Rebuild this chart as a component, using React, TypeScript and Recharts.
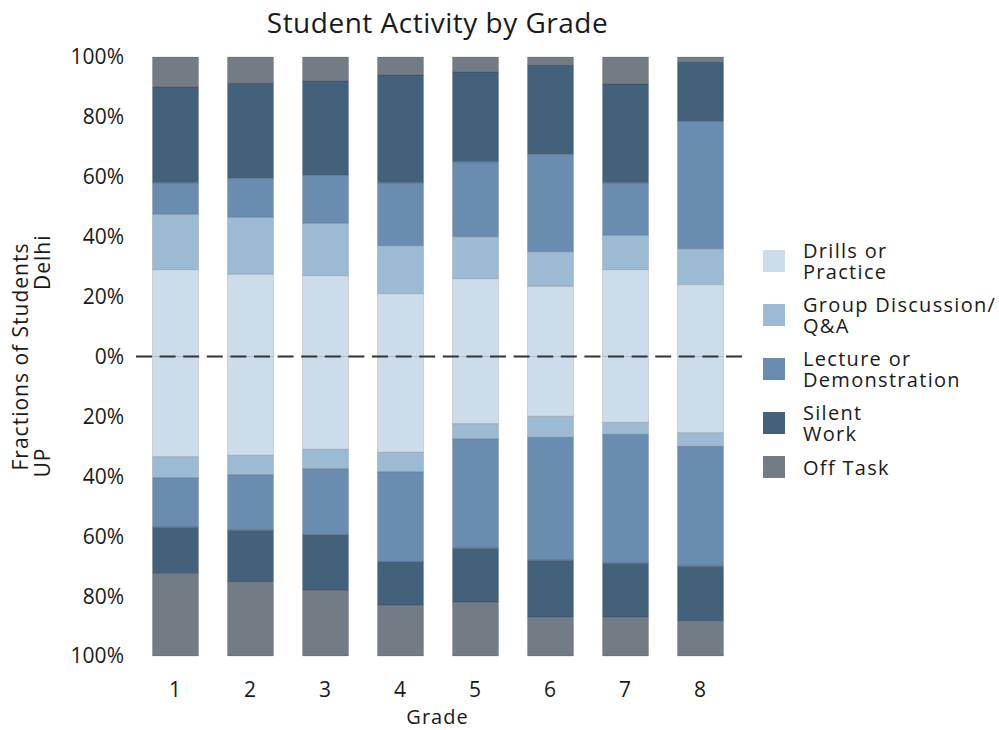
import React from 'react';
import { BarChart, Bar, XAxis, YAxis, ReferenceLine } from 'recharts';

const grades = ['1', '2', '3', '4', '5', '6', '7', '8'];

const activities = [
  'Drills or\nPractice',
  'Group Discussion/\nQ&A',
  'Lecture or\nDemonstration',
  'Silent\nWork',
  'Off Task',
];

// Delhi (upper half), percent of students
const delhiDrills = [29, 27.5, 27, 21, 26, 23.5, 29, 24];
const delhiGroup = [18.5, 19, 17.5, 16, 14, 11.5, 11.5, 12];
const delhiLecture = [10.5, 13, 16, 21, 25, 32.5, 17.5, 42.5];
const delhiSilent = [32, 32, 31.5, 36, 30, 30, 33, 20];
const delhiOff = [10, 8.5, 8, 6, 5, 2.5, 9, 1.5];

// UP (lower half)
const upDrills = [33.5, 33, 31, 32, 22.5, 20, 22, 25.5];
const upGroup = [7, 6.5, 6.5, 6.5, 5, 7, 4, 4.5];
const upLecture = [16.5, 18.5, 22, 30, 36.5, 41, 43, 40];
const upSilent = [15.5, 17.5, 18.5, 14.5, 18, 19, 18, 18.5];
const upOff = [27.5, 24.5, 22, 17, 18, 13, 13, 11.5];

const yTicks = [-100, -80, -60, -40, -20, 0, 20, 40, 60, 80, 100];

const COLORS = ['#cddcea', '#9dbad5', '#6a8cb0', '#44617c', '#737b85'];
const FONT = '"Open Sans", sans-serif';
const INK = '#1a1a1a';

const delhi = [delhiDrills, delhiGroup, delhiLecture, delhiSilent, delhiOff];
const up = [upDrills, upGroup, upLecture, upSilent, upOff];

const data = grades.map((grade, i) => {
  const row: Record<string, string | number> = { grade };
  delhi.forEach((s, k) => {
    row[`d${k}`] = s[i];
  });
  up.forEach((s, k) => {
    row[`u${k}`] = -s[i];
  });
  return row;
});

const YTitle = ({ viewBox }: any) => {
  const cy = viewBox.y + viewBox.height / 2;
  return (
    <g fontSize={21} fill={INK} fontFamily={FONT} letterSpacing={1}>
      <text transform={`translate(28, ${cy}) rotate(-90)`} textAnchor="middle">
        Fractions of Students
      </text>
      <text transform={`translate(50, ${cy + 121}) rotate(-90)`} textAnchor="start">
        UP
      </text>
      <text transform={`translate(50, ${cy - 122}) rotate(-90)`} textAnchor="end">
        Delhi
      </text>
    </g>
  );
};

export default function App() {
  return (
    <div style={{ position: 'absolute', left: 0, top: 0, width: 999, height: 730, fontFamily: FONT, color: INK }}>
      <div
        style={{
          position: 'absolute',
          left: 130,
          width: 615,
          top: 5,
          fontSize: 28,
          lineHeight: '34px',
          letterSpacing: 0.5,
          textAlign: 'center',
        }}
      >
        Student Activity by Grade
      </div>

      <BarChart
        width={999}
        height={730}
        data={data}
        stackOffset="sign"
        barSize={46}
        margin={{ top: 57, right: 254, bottom: 0, left: 0 }}
      >
        <XAxis
          dataKey="grade"
          height={74}
          padding={{ left: 7.5, right: 7.5 }}
          axisLine={false}
          tickLine={false}
          tickSize={0}
          tickMargin={26}
          tick={{ fontSize: 21, fill: INK, fontFamily: FONT }}
          label={{
            value: 'Grade',
            position: 'insideBottom',
            offset: 6,
            fontSize: 20,
            fill: INK,
            fontFamily: FONT,
            letterSpacing: 1,
          }}
        />
        <YAxis
          width={130}
          type="number"
          domain={[-100, 100]}
          ticks={yTicks}
          interval={0}
          axisLine={false}
          tickLine={false}
          tickSize={0}
          tickMargin={6}
          tickFormatter={(v: number) => `${Math.abs(v)}%`}
          tick={{ fontSize: 21, fill: INK, fontFamily: FONT }}
          label={(props: any) => <YTitle {...props} />}
        />
        <ReferenceLine
          y={0}
          stroke="#333"
          strokeWidth={2}
          strokeDasharray="16 7.6"
          strokeDashoffset={-6}
        />
        {COLORS.map((c, k) => [
          <Bar
            key={`d${k}`}
            dataKey={`d${k}`}
            stackId="a"
            fill={c}
            stroke="#000"
            strokeOpacity={0.12}
            isAnimationActive={false}
          />,
          <Bar
            key={`u${k}`}
            dataKey={`u${k}`}
            stackId="a"
            fill={c}
            stroke="#000"
            strokeOpacity={0.12}
            isAnimationActive={false}
          />,
        ])}
      </BarChart>

      <div
        style={{
          position: 'absolute',
          left: 763,
          top: 240,
          fontSize: 20,
          lineHeight: '21px',
          letterSpacing: 1.3,
        }}
      >
        {activities.map((a, k) => (
          <div key={a} style={{ display: 'flex', alignItems: 'center', marginBottom: 12 }}>
            <div style={{ width: 22, height: 22, background: COLORS[k], marginRight: 18, flex: 'none' }} />
            <div style={{ whiteSpace: 'pre-line' }}>{a}</div>
          </div>
        ))}
      </div>
    </div>
  );
}
